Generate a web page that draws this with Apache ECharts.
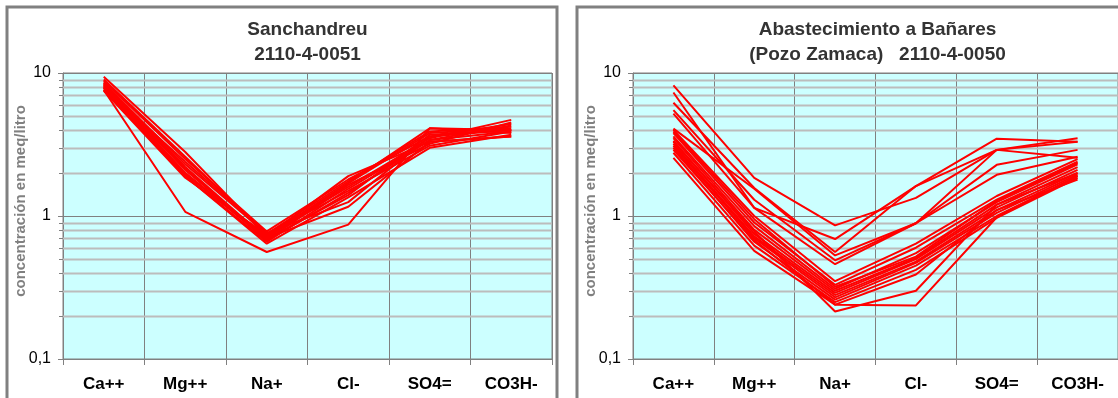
<!DOCTYPE html>
<html>
<head>
<meta charset="utf-8">
<script src="https://cdn.jsdelivr.net/npm/echarts@6/dist/echarts.min.js"></script>
<style>
  html, body { margin: 0; padding: 0; background: #ffffff; }
  #chart { width: 1118px; height: 398px; }
</style>
</head>
<body>
<div id="chart"></div>
<script>
// Ion categories along the x axis
const categories = ['Ca++', 'Mg++', 'Na+', 'Cl-', 'SO4=', 'CO3H-'];

// Panel titles
const titleLeft = ['Sanchandreu', '2110-4-0051'];
const titleRight = ['Abastecimiento a Bañares', '(Pozo Zamaca)   2110-4-0050'];
const yAxisName = 'concentración en meq/litro';

// Log-axis minor grid values (2..9 of each decade)
const minorGridValues = [0.2, 0.3, 0.4, 0.5, 0.6, 0.7, 0.8, 0.9, 2, 3, 4, 5, 6, 7, 8, 9];

// Sanchandreu analyses, meq/l per ion (Ca, Mg, Na, Cl, SO4, CO3H)
const sanchandreu = [
  [9.4, 2.8, 0.72, 1.9, 3.3, 3.6],
  [8.8, 2.5, 0.78, 1.8, 3.6, 4.0],
  [8.5, 2.3, 0.75, 1.75, 3.9, 4.2],
  [8.2, 2.1, 0.70, 1.7, 4.1, 3.8],
  [8.0, 2.0, 0.68, 1.65, 3.2, 4.5],
  [7.9, 1.95, 0.72, 1.6, 3.5, 4.7],
  [7.7, 1.9, 0.66, 1.55, 3.4, 4.3],
  [7.5, 1.85, 0.74, 1.5, 3.1, 3.9],
  [8.6, 2.2, 0.69, 1.4, 3.7, 4.0],
  [8.3, 1.9, 0.64, 1.35, 3.0, 3.7],
  [7.9, 2.4, 0.76, 1.25, 3.6, 4.4],
  [8.1, 2.0, 0.70, 1.16, 3.3, 3.6],
  [7.6, 1.07, 0.56, 0.87, 4.1, 4.0],
  [9.0, 2.6, 0.73, 1.7, 3.8, 4.1],
  [8.4, 2.15, 0.67, 1.45, 3.4, 3.9]
];

// Pozo Zamaca analyses, meq/l per ion (Ca, Mg, Na, Cl, SO4, CO3H)
const zamaca = [
  [8.2, 1.85, 0.86, 1.34, 2.9, 3.5],
  [7.3, 1.14, 0.69, 1.62, 3.47, 3.3],
  [6.2, 1.57, 0.56, 1.62, 2.9, 2.55],
  [5.5, 1.3, 0.49, 0.89, 2.28, 2.9],
  [5.2, 1.14, 0.46, 0.89, 1.94, 2.6],
  [4.08, 1.55, 0.53, 0.89, 2.9, 3.3],
  [4.0, 1.0, 0.35, 0.64, 1.38, 2.5],
  [3.8, 0.9, 0.33, 0.60, 1.30, 2.4],
  [3.6, 0.85, 0.31, 0.55, 1.25, 2.3],
  [3.5, 0.80, 0.30, 0.51, 1.20, 2.2],
  [3.36, 0.75, 0.29, 0.50, 1.15, 2.1],
  [3.2, 0.72, 0.28, 0.48, 1.10, 2.0],
  [3.1, 0.70, 0.27, 0.47, 1.05, 1.95],
  [3.0, 0.66, 0.26, 0.45, 1.0, 1.9],
  [2.77, 0.62, 0.25, 0.42, 0.97, 1.85],
  [2.55, 0.57, 0.24, 0.39, 1.1, 1.8],
  [3.3, 0.78, 0.215, 0.30, 1.2, 2.0],
  [2.9, 0.68, 0.24, 0.237, 0.98, 1.9],
  [3.9, 0.95, 0.32, 0.52, 1.28, 2.35]
];

const FONT = '"Liberation Sans", Arial, sans-serif';
const GRID_W = 489;
const GRID_H = 286;
const grids = [
  { left: 63, top: 73, width: GRID_W, height: GRID_H },
  { left: 633, top: 73, width: GRID_W, height: GRID_H }
];

function makeX(i) {
  return {
    type: 'category', gridIndex: i, data: categories, boundaryGap: true,
    axisLine: { show: true, lineStyle: { color: '#808080', width: 1 } },
    axisTick: { show: true, length: 6, lineStyle: { color: '#808080' } },
    axisLabel: { color: '#000', fontFamily: FONT, fontWeight: 'bold', fontSize: 17, margin: 17 },
    splitLine: { show: true, lineStyle: { color: '#808080', width: 1 } }
  };
}
function makeY(i) {
  return {
    type: 'log', logBase: 10, min: 0.1, max: 10, gridIndex: i,
    axisLine: { show: true, lineStyle: { color: '#808080', width: 1 } },
    axisTick: { show: true, length: 5, lineStyle: { color: '#808080' } },
    axisLabel: {
      color: '#000', fontFamily: FONT, fontSize: 16, margin: 12,
      formatter: v => String(v).replace('.', ',')
    },
    splitLine: { show: true, lineStyle: { color: '#808080', width: 1 } }
  };
}

// Minor log grid lines plus their small outside ticks
function minorSeries(i) {
  return {
    type: 'custom', xAxisIndex: i, yAxisIndex: i, silent: true, z: 1,
    data: minorGridValues.map(v => [0, v]),
    renderItem: function (params, api) {
      const cs = params.coordSys;
      const y = Math.round(api.coord([0, api.value(1)])[1]) + 0.5;
      return {
        type: 'group',
        children: [
          { type: 'line', shape: { x1: cs.x, y1: y, x2: cs.x + cs.width, y2: y },
            style: { stroke: '#bcbcbc', lineWidth: 2 } },
          { type: 'line', shape: { x1: cs.x - 4, y1: y, x2: cs.x, y2: y },
            style: { stroke: '#808080', lineWidth: 1 } }
        ]
      };
    }
  };
}

function lineSeries(rows, i) {
  return rows.map(r => ({
    type: 'line', xAxisIndex: i, yAxisIndex: i, data: r,
    showSymbol: false, symbol: 'none', silent: true, z: 3,
    lineStyle: { color: '#ff0000', width: 2 }
  }));
}

function titleText(lines, cx) {
  return {
    type: 'text', x: cx, y: 17, z: 10,
    style: {
      text: lines.join('\n'), fill: '#333333', textAlign: 'center',
      font: 'bold 19px ' + FONT, lineHeight: 25
    }
  };
}

// Rotated y-axis caption, reading bottom to top
function axisCaption(x) {
  return {
    type: 'text', x: x, y: 201, rotation: Math.PI / 2, z: 10,
    style: {
      text: yAxisName, fill: '#808080', textAlign: 'center', textVerticalAlign: 'middle',
      font: 'bold 15px ' + FONT
    }
  };
}

const chart = echarts.init(document.getElementById('chart'), null, { renderer: 'canvas' });
chart.setOption({
  animation: false,
  backgroundColor: '#ffffff',
  grid: grids.map(g => Object.assign({ show: true, backgroundColor: '#ccffff', borderColor: '#808080', borderWidth: 1 }, g)),
  xAxis: [makeX(0), makeX(1)],
  yAxis: [makeY(0), makeY(1)],
  series: [minorSeries(0), minorSeries(1)]
    .concat(lineSeries(sanchandreu, 0))
    .concat(lineSeries(zamaca, 1)),
  graphic: [
    { type: 'rect', shape: { x: 7, y: 7, width: 550, height: 420 }, z: 0,
      style: { fill: 'none', stroke: '#808080', lineWidth: 3 } },
    { type: 'rect', shape: { x: 577, y: 7, width: 620, height: 420 }, z: 0,
      style: { fill: 'none', stroke: '#808080', lineWidth: 3 } },
    titleText(titleLeft, 63 + GRID_W / 2),
    titleText(titleRight, 633 + GRID_W / 2),
    axisCaption(21),
    axisCaption(591)
  ]
});
</script>
</body>
</html>
